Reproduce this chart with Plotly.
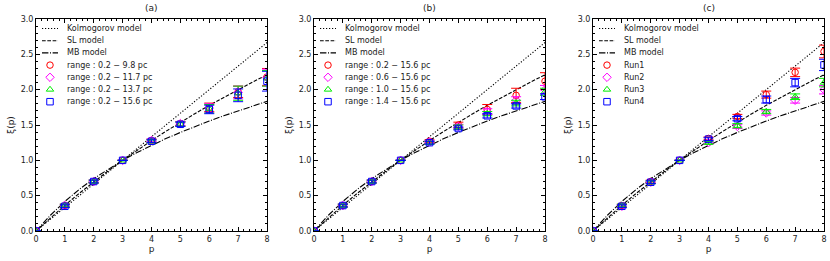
import plotly.graph_objects as go

# ---------------- data ----------------
p_model = [0, 0.5, 1, 1.5, 2, 2.5, 3, 3.5, 4, 4.5, 5, 5.5, 6, 6.5, 7, 7.5, 8]
kolmogorov = [0, 0.167, 0.333, 0.5, 0.667, 0.833, 1.0, 1.167, 1.333, 1.5, 1.667, 1.833, 2.0, 2.167, 2.333, 2.5, 2.667]
sl_model = [0, 0.186, 0.364, 0.534, 0.696, 0.851, 1.0, 1.143, 1.280, 1.411, 1.538, 1.660, 1.778, 1.891, 2.001, 2.108, 2.211]
mb_model = [0, 0.223, 0.418, 0.589, 0.742, 0.877, 1.0, 1.111, 1.213, 1.308, 1.395, 1.478, 1.556, 1.630, 1.701, 1.769, 1.835]
model_names = ["Kolmogorov model", "SL model", "MB model"]

p = [0, 1, 2, 3, 4, 5, 6, 7, 8]

# panel (a)
a_labels = ["range : 0.2 − 9.8 pc", "range : 0.2 − 11.7 pc", "range : 0.2 − 13.7 pc", "range : 0.2 − 15.6 pc"]
a_vals = [
    [0, 0.36, 0.70, 1.0, 1.28, 1.52, 1.75, 1.97, 2.18],
    [0, 0.36, 0.70, 1.0, 1.28, 1.52, 1.74, 1.96, 2.17],
    [0, 0.36, 0.70, 1.0, 1.27, 1.51, 1.73, 1.95, 2.16],
    [0, 0.35, 0.70, 1.0, 1.27, 1.51, 1.72, 1.92, 2.12],
]
a_errs = [
    [0, 0.02, 0.02, 0.0, 0.02, 0.03, 0.06, 0.08, 0.12],
    [0, 0.02, 0.02, 0.0, 0.02, 0.03, 0.06, 0.09, 0.12],
    [0, 0.02, 0.02, 0.0, 0.02, 0.03, 0.06, 0.10, 0.11],
    [0, 0.02, 0.02, 0.0, 0.02, 0.03, 0.06, 0.09, 0.14],
]

# panel (b)
b_labels = ["range : 0.2 − 15.6 pc", "range : 0.6 − 15.6 pc", "range : 1.0 − 15.6 pc", "range : 1.4 − 15.6 pc"]
b_vals = [
    [0, 0.36, 0.70, 1.0, 1.27, 1.50, 1.72, 1.92, 2.12],
    [0, 0.36, 0.70, 1.0, 1.26, 1.48, 1.69, 1.85, 2.00],
    [0, 0.36, 0.70, 1.0, 1.25, 1.47, 1.66, 1.81, 1.97],
    [0, 0.36, 0.70, 1.0, 1.25, 1.45, 1.63, 1.77, 1.90],
]
b_errs = [
    [0, 0.02, 0.02, 0.0, 0.02, 0.04, 0.07, 0.10, 0.12],
    [0, 0.02, 0.02, 0.0, 0.02, 0.03, 0.04, 0.05, 0.06],
    [0, 0.02, 0.02, 0.0, 0.02, 0.03, 0.03, 0.04, 0.05],
    [0, 0.02, 0.02, 0.0, 0.02, 0.02, 0.03, 0.03, 0.04],
]

# panel (c)
c_labels = ["Run1", "Run2", "Run3", "Run4"]
c_vals = [
    [0, 0.36, 0.70, 1.0, 1.31, 1.62, 1.93, 2.245, 2.54],
    [0, 0.35, 0.69, 1.0, 1.25, 1.48, 1.67, 1.85, 2.00],
    [0, 0.36, 0.69, 1.0, 1.25, 1.49, 1.69, 1.90, 2.10],
    [0, 0.35, 0.69, 1.0, 1.30, 1.59, 1.86, 2.10, 2.35],
]
c_errs = [
    [0, 0.02, 0.02, 0.0, 0.02, 0.03, 0.05, 0.06, 0.09],
    [0, 0.02, 0.02, 0.0, 0.02, 0.03, 0.03, 0.04, 0.06],
    [0, 0.02, 0.02, 0.0, 0.02, 0.03, 0.03, 0.04, 0.06],
    [0, 0.02, 0.02, 0.0, 0.02, 0.03, 0.05, 0.06, 0.08],
]

panel_titles = ["(a)", "(b)", "(c)"]
x_ticks = [0, 1, 2, 3, 4, 5, 6, 7, 8]
y_ticks = [0.0, 0.5, 1.0, 1.5, 2.0, 2.5, 3.0]

# ---------------- style / layout ----------------
W, H = 830, 261
colors = ["#ff0000", "#ff00ff", "#00ee00", "#0000ff"]
symbols = ["circle-open", "diamond-open", "triangle-up-open", "square-open"]
model_dashes = ["1.2px,1.8px", "3.7px,1.6px", "6.4px,1.6px,1px,1.6px"]
FONT = "DejaVu Sans"
TXT = "#222"
MSIZE = 6.5

panel_px = [(36, 267), (314, 545), (593, 824)]   # left/right pixel edges
top_px, bot_px = 19, 231
x_domains = [[l / W, r / W] for l, r in panel_px]
y_domain = [1 - bot_px / H, 1 - top_px / H]
pw, ph = panel_px[0][1] - panel_px[0][0], bot_px - top_px

# manual legend geometry (pixels relative to panel top-left)
leg_row0, leg_dy = 9.5, 12.2
leg_line = (6, 22)
leg_marker_x = 14
leg_text_x = 28.5

fig = go.Figure()

panels = [(a_labels, a_vals, a_errs), (b_labels, b_vals, b_errs), (c_labels, c_vals, c_errs)]

for i, (labels, vals, errs) in enumerate(panels):
    sfx = "" if i == 0 else str(i + 1)
    xa, ya = "x" + sfx, "y" + sfx
    lsfx = str(i + 4)
    lxa, lya = "x" + lsfx, "y" + lsfx

    for name, yv, dash in zip(model_names, [kolmogorov, sl_model, mb_model], model_dashes):
        fig.add_trace(go.Scatter(x=p_model, y=yv, mode="lines", name=name,
                                 line=dict(color="black", width=1.1, dash=dash),
                                 xaxis=xa, yaxis=ya, showlegend=False, hoverinfo="skip"))
    for j in range(4):
        fig.add_trace(go.Scatter(
            x=p, y=vals[j], mode="markers", name=labels[j],
            marker=dict(symbol=symbols[j], color=colors[j], size=MSIZE, line=dict(width=1, color=colors[j])),
            error_y=dict(type="data", array=errs[j], color=colors[j], thickness=1, width=5),
            xaxis=xa, yaxis=ya, showlegend=False))

    # ---- manual legend (glyphs on a hidden pixel-scaled overlay axis) ----
    names = model_names + labels
    for k, name in enumerate(names):
        yrow = ph - (leg_row0 + k * leg_dy)
        if k < 3:
            fig.add_trace(go.Scatter(x=list(leg_line), y=[yrow, yrow], mode="lines",
                                     line=dict(color="black", width=1.1, dash=model_dashes[k]),
                                     xaxis=lxa, yaxis=lya, showlegend=False, hoverinfo="skip"))
        else:
            j = k - 3
            fig.add_trace(go.Scatter(x=[leg_marker_x], y=[yrow], mode="markers",
                                     marker=dict(symbol=symbols[j], color=colors[j], size=MSIZE,
                                                 line=dict(width=1, color=colors[j])),
                                     xaxis=lxa, yaxis=lya, showlegend=False, hoverinfo="skip"))
        fig.add_annotation(text=name, xref="paper", yref="paper",
                           x=(panel_px[i][0] + leg_text_x) / W,
                           y=1 - (top_px + leg_row0 + k * leg_dy) / H,
                           xanchor="left", yanchor="middle", showarrow=False,
                           font=dict(family=FONT, size=8, color=TXT))

    common = dict(showline=True, linecolor="black", linewidth=1, mirror="ticks",
                  ticks="inside", ticklen=4, tickwidth=1, tickcolor="black",
                  showgrid=False, zeroline=False, automargin=False,
                  tickfont=dict(family=FONT, size=8, color=TXT))
    fig.update_layout(**{
        "xaxis" + sfx: dict(domain=x_domains[i], range=[0, 8], anchor=ya,
                            tickvals=x_ticks, ticktext=[str(t) for t in x_ticks],
                            minor=dict(dtick=0.2, ticks="inside", ticklen=2, tickcolor="black", showgrid=False),
                            title=dict(text="p", font=dict(family=FONT, size=9, color=TXT), standoff=2),
                            **common),
        "yaxis" + sfx: dict(domain=y_domain, range=[0, 3], anchor=xa,
                            tickvals=y_ticks, ticktext=["%.1f" % t for t in y_ticks],
                            minor=dict(dtick=0.1, ticks="inside", ticklen=2, tickcolor="black", showgrid=False),
                            title=dict(text="ξ(p)", font=dict(family=FONT, size=9, color=TXT), standoff=4),
                            **common),
        "xaxis" + lsfx: dict(domain=x_domains[i], range=[0, pw], anchor=lya, visible=False,
                             fixedrange=True, automargin=False),
        "yaxis" + lsfx: dict(domain=y_domain, range=[0, ph], anchor=lxa, visible=False,
                             fixedrange=True, automargin=False),
    })
    fig.add_annotation(text=panel_titles[i], xref="paper", yref="paper",
                       x=(x_domains[i][0] + x_domains[i][1]) / 2, y=1 - 8 / H,
                       xanchor="center", yanchor="middle", showarrow=False,
                       font=dict(family=FONT, size=9, color=TXT))

fig.update_layout(width=W, height=H, margin=dict(l=0, r=0, t=0, b=0, autoexpand=False),
                  paper_bgcolor="white", plot_bgcolor="rgba(0,0,0,0)", showlegend=False)

fig.write_html("out.html", config={"displayModeBar": False},
               post_script="document.body.style.margin='0';document.body.style.padding='0';")
